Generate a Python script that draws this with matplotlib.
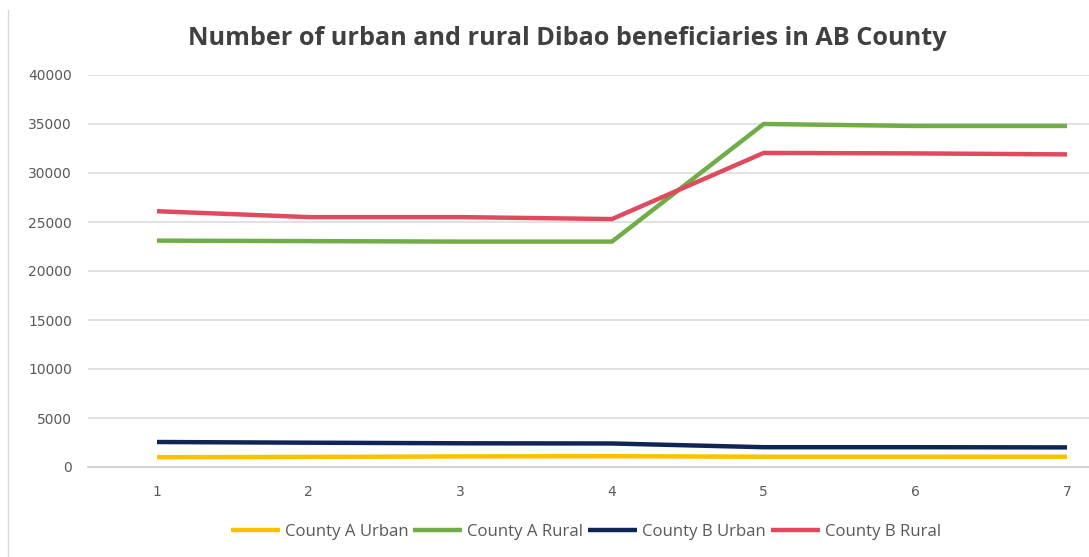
import matplotlib.pyplot as plt
from matplotlib.lines import Line2D

periods = [1, 2, 3, 4, 5, 6, 7]
a_urban = [1000, 1030, 1080, 1100, 1050, 1050, 1050]
a_rural = [23100, 23050, 23000, 23000, 35000, 34800, 34800]
b_urban = [2550, 2480, 2420, 2400, 2020, 2020, 2000]
b_rural = [26100, 25500, 25500, 25300, 32050, 32000, 31900]

series = [
    ("County A Urban", a_urban, "#FFC000"),
    ("County A Rural", a_rural, "#70AD47"),
    ("County B Urban", b_urban, "#0E2557"),
    ("County B Rural", b_rural, "#E04A5E"),
]

fig = plt.figure(figsize=(10.89, 5.57), dpi=100)
ax = fig.add_axes([88 / 1089, 90 / 557, 1 - 88 / 1089, 392 / 557])

for name, vals, col in series:
    ax.plot(periods, vals, color=col, lw=3.2, label=name, solid_capstyle="butt")

ax.set_xlim(0.545, 7.145)
ax.set_ylim(0, 40000)
ax.set_yticks(range(0, 40001, 5000))
ax.set_xticks(periods)
ax.grid(axis="y", color="#d9d9d9", lw=1.1)
ax.set_axisbelow(True)
for s in ["left", "right", "top"]:
    ax.spines[s].set_visible(False)
ax.spines["bottom"].set_color("#d0d0d0")
ax.spines["bottom"].set_linewidth(1.3)
ax.tick_params(length=0, labelsize=10, labelcolor="#595959")
ax.tick_params(axis="y", pad=11.5)
ax.tick_params(axis="x", pad=13)

fig.text(567 / 1089, 1 - 45 / 557, "Number of urban and rural Dibao beneficiaries in AB County",
         ha="center", va="baseline", fontsize=18.2, fontweight="bold",
         family="Open Sans", color="#404040")

fig.add_artist(Line2D([8 / 1089, 8 / 1089], [0, 1 - 10 / 557], color="#d9d9d9", lw=1))

fig.legend(loc="center", bbox_to_anchor=(0.538, 1 - 532 / 557), ncol=4, frameon=False,
           handlelength=2.9, handletextpad=0.3, columnspacing=0.3,
           prop={"family": "Open Sans", "size": 12.1}, labelcolor="#595959")

fig.savefig("out.png", dpi=100)
